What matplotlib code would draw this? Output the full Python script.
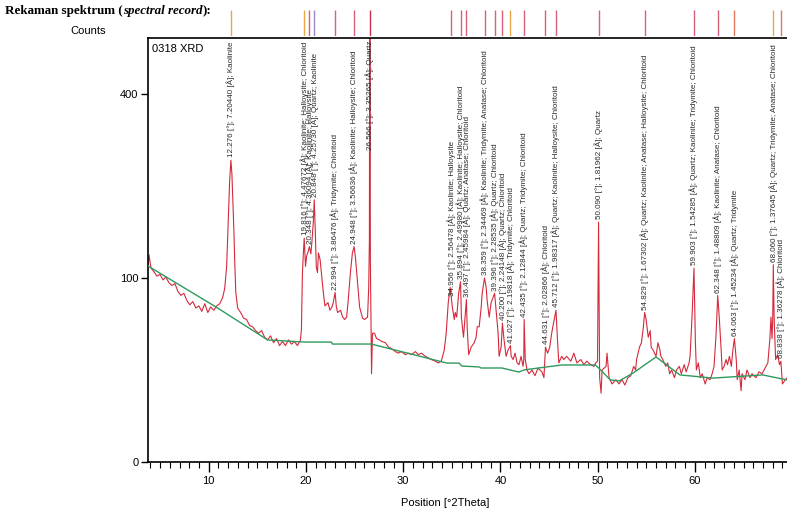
import numpy as np
import matplotlib
matplotlib.use('Agg')
import matplotlib.pyplot as plt
from matplotlib.ticker import FixedLocator, MultipleLocator

theta_a = [3.75, 3.85, 4.06, 4.36, 4.67, 4.98, 5.29, 5.59, 5.90, 6.21,
           6.52, 6.82, 7.13, 7.44, 7.75, 8.05, 8.36, 8.67, 8.98, 9.28,
           9.59, 9.90, 10.20, 10.51, 10.82, 11.13, 11.43, 11.64, 11.84, 11.95,
           12.05, 12.15, 12.276, 12.38, 12.48, 12.58, 12.68, 12.78, 12.97, 13.28,
           13.59, 13.89, 14.20, 14.51, 14.82, 15.12, 15.43, 15.74, 16.05, 16.35,
           16.66, 16.97, 17.28, 17.58, 17.89, 18.20, 18.50, 18.81, 19.12, 19.43]
counts_a = [111, 127, 111, 107, 102, 104, 98, 101, 95, 92,
            94, 86, 82, 84, 77, 73, 76, 70, 72, 67,
            74, 66, 71, 68, 72, 74, 80, 89, 113, 150,
            190, 235, 269, 245, 200, 160, 115, 85, 70, 66,
            61, 60, 55, 54, 51, 49, 51, 46, 44, 47,
            42, 45, 40, 43, 40, 44, 41, 43, 40, 44]

theta_b = [19.53, 19.63, 19.73, 19.816, 19.95, 20.06, 20.20, 20.348, 20.50, 20.62,
           20.75, 20.848, 20.95, 21.06, 21.18, 21.28, 21.45, 21.65, 21.78, 21.95,
           22.26, 22.46, 22.67, 22.80, 22.994, 23.12, 23.25, 23.56, 23.77, 23.97,
           24.18, 24.35, 24.56, 24.77, 24.948, 25.10, 25.30, 25.51, 25.82, 26.02,
           26.33, 26.45, 26.52, 26.566, 26.62, 26.74, 26.84, 27.05, 27.25, 27.56,
           27.76, 28.17, 28.48, 28.79, 29.20, 29.50, 29.81, 30.22, 30.53, 30.84,
           31.25, 31.55, 31.86, 32.27, 32.58, 32.89, 33.30, 33.60, 33.91, 34.22,
           34.42, 34.63, 34.83]
counts_b = [52, 105, 129, 148, 113, 125, 130, 137, 128, 145,
            170, 203, 160, 112, 106, 129, 121, 98, 85, 72,
            75, 68, 71, 75, 85, 71, 66, 68, 62, 60,
            62, 78, 105, 129, 137, 122, 95, 71, 61, 60,
            62, 90, 145, 1000, 120, 23, 49, 49, 45, 44,
            43, 42, 39, 38, 36, 35, 36, 34, 35, 34,
            36, 34, 35, 33, 32, 31, 30, 29, 30, 37,
            49, 75, 90]

theta_c = [34.956, 35.05, 35.25, 35.35, 35.50, 35.70, 35.894, 35.98, 36.20, 36.497,
           36.58, 36.73, 36.99, 37.30, 37.50, 37.61, 37.81, 38.02, 38.12, 38.359,
           38.53, 38.63, 38.84, 39.04, 39.396, 39.55, 39.76, 39.86, 40.07, 40.200,
           40.37, 40.58, 40.78, 41.027, 41.10, 41.30, 41.50, 41.71, 41.91, 42.12,
           42.32, 42.40, 42.435, 42.55, 42.73, 42.94, 43.24, 43.55, 43.86, 44.27,
           44.47, 44.631, 44.85, 45.07, 45.27, 45.48, 45.712, 45.85, 46.00, 46.30,
           46.50, 46.80, 47.24, 47.55, 47.86, 48.27, 48.58, 48.88, 49.29, 49.60,
           49.80, 49.98, 50.090, 50.20, 50.35, 50.45, 50.86, 50.96, 51.17, 51.47,
           51.88, 52.19]
counts_c = [95, 71, 60, 66, 62, 84, 96, 62, 46, 78,
            53, 34, 39, 42, 46, 54, 54, 71, 84, 100,
            90, 77, 62, 75, 84, 68, 49, 33, 39, 57,
            44, 33, 37, 40, 33, 31, 35, 29, 28, 33,
            27, 31, 60, 31, 25, 23, 25, 22, 26, 24,
            21, 39, 35, 39, 49, 58, 68, 46, 29, 33,
            31, 33, 30, 35, 29, 31, 28, 30, 28, 27,
            29, 30, 170, 21, 14, 25, 27, 35, 21, 18,
            20, 18]

theta_d = [52.50, 52.80, 53.10, 53.40, 53.70, 53.90, 54.00, 54.30, 54.50, 54.70,
           54.829, 54.98, 55.20, 55.40, 55.50, 55.70, 56.00, 56.20, 56.40, 56.50,
           56.70, 57.00, 57.20, 57.40, 57.60, 57.90, 58.10, 58.40, 58.60, 58.90,
           59.10, 59.40, 59.50, 59.70, 59.903, 60.05, 60.15, 60.35, 60.55, 60.75,
           61.05, 61.26, 61.56, 61.77, 61.97, 62.18, 62.348, 62.50, 62.70, 62.80,
           63.00, 63.20, 63.35, 63.55, 63.75, 63.90, 64.063, 64.25, 64.35, 64.55,
           64.75, 64.85, 65.15, 65.36, 65.67, 65.87, 66.28, 66.59, 66.90, 67.30,
           67.50, 67.70, 67.82, 67.93, 68.00, 68.060, 68.15, 68.30, 68.50, 68.70,
           68.838, 69.00, 69.30, 69.50]
counts_d = [20, 17.5, 21, 22, 27, 25, 31, 39, 42, 54,
            66, 60, 46, 51, 39, 37, 33, 42, 37, 33,
            31, 27, 29, 23, 25, 21, 25, 27, 23, 28,
            24, 29, 33, 62, 111, 42, 25, 29, 21, 23,
            18, 21, 20, 23, 27, 49, 82, 62, 37, 25,
            27, 31, 28, 33, 27, 37, 45, 31, 20, 25,
            15, 23, 20, 25, 21, 23, 21, 24, 23, 27,
            29, 44, 62, 45, 60, 115, 60, 31, 34, 28,
            30, 18, 20, 21]

# fitted background
bg_theta = [3.75, 10.92, 16.05, 19.84, 22.61, 22.71, 26.71, 34.50, 35.73, 36.04,
            37.80, 38.00, 40.15, 41.90, 42.40, 43.90, 46.30, 49.75, 50.10, 51.30,
            52.20, 53.65, 56.00, 58.45, 61.85, 66.97, 69.47]
bg_counts = [113.5, 70.0, 44.0, 42.5, 42.5, 41.1, 41.1, 28.9, 28.9, 27.2,
             26.7, 26.1, 26.1, 23.9, 25.0, 26.1, 27.8, 27.8, 26.1, 19.9,
             19.4, 23.4, 32.6, 22.4, 20.8, 22.4, 19.9]

# peak list
peak_pos = [12.276, 19.816, 20.348, 20.848, 22.994, 24.948, 26.566, 34.956,
            35.894, 36.497, 38.359, 39.396, 40.200, 41.027, 42.435, 44.631,
            45.712, 50.090, 54.829, 59.903, 62.348, 64.063, 68.060, 68.838]
peak_d = ['7.20440', '4.47672', '4.36094', '4.25730', '3.86476', '3.56636',
          '3.35265', '2.56478', '2.49980', '2.45984', '2.34469', '2.28535',
          '2.24148', '2.19818', '2.12844', '2.02866', '1.98317', '1.81962',
          '1.67302', '1.54285', '1.48809', '1.45234', '1.37645', '1.36278']
peak_phases = ['Kaolinite',
               'Kaolinite; Halloysite; Chloritoid',
               'Kaolinite; Halloysite',
               'Quartz; Kaolinite',
               'Tridymite; Chloritoid',
               'Kaolinite; Halloysite; Chloritoid',
               'Quartz',
               'Kaolinite; Halloysite',
               'Kaolinite; Halloysite; Chloritoid',
               'Quartz; Anatase; Chloritoid',
               'Kaolinite; Tridymite; Anatase; Chloritoid',
               'Quartz; Chloritoid',
               'Quartz; Chloritoid',
               'Tridymite; Chloritoid',
               'Quartz; Tridymite; Chloritoid',
               'Chloritoid',
               'Quartz; Kaolinite; Halloysite; Chloritoid',
               'Quartz',
               'Quartz; Kaolinite; Anatase; Halloysite; Chloritoid',
               'Quartz; Kaolinite; Tridymite; Chloritoid',
               'Kaolinite; Anatase; Chloritoid',
               'Quartz; Tridymite',
               'Quartz; Tridymite; Anatase; Chloritoid',
               'Chloritoid']

RED = '#d9607a'
ORANGE = '#e8a848'
PURPLE = '#9a86c4'
stick_colors = [ORANGE, ORANGE, RED, PURPLE, RED, RED, '#c8304a', RED,
                RED, RED, RED, RED, RED, ORANGE, RED, RED,
                RED, RED, RED, RED, RED, '#e0785a', ORANGE, '#e0785a']

two_theta = np.array(theta_a + theta_b + theta_c[1:] + theta_d)
counts = np.array(counts_a + counts_b + counts_c[1:] + counts_d, dtype=float)
order = np.argsort(two_theta, kind='stable')
two_theta, counts = two_theta[order], counts[order]

X0, X1 = 3.75, 69.47
YTOP = 531

fig = plt.figure(figsize=(7.87, 5.15), dpi=100)
ax = fig.add_axes([148 / 787, 1 - 462 / 515, 1 - 148 / 787, 424 / 515])
ax.set_yscale('function', functions=(lambda v: np.sqrt(np.clip(v, 0, None)),
                                     lambda v: np.square(v)))
ax.plot(two_theta, counts, color='#d42a3c', lw=0.8, zorder=2)
ax.plot(bg_theta, bg_counts, color='#2f9a5e', lw=1.0, zorder=3)
ax.set_xlim(X0, X1)
ax.set_ylim(0, YTOP)

lab_font = dict(family='Liberation Sans', size=5.8, color='#2a2a2a')
for p, d, ph in zip(peak_pos, peak_d, peak_phases):
    h = np.interp(p, two_theta, counts)
    txt = '%.3f [°]; %s [Å]; %s' % (p, d, ph)
    if h > YTOP:
        a = ax.annotate(txt, (p, YTOP), xytext=(0, -2), textcoords='offset points',
                        rotation=90, ha='center', va='top', **lab_font)
    else:
        a = ax.annotate(txt, (p, h), xytext=(0, 2), textcoords='offset points',
                        rotation=90, ha='center', va='bottom', **lab_font)
    a.set_clip_on(True)

ax.text(0.006, 0.985, '0318 XRD', transform=ax.transAxes, ha='left', va='top',
        family='Liberation Sans', size=8)

for s in ['left', 'top', 'bottom']:
    ax.spines[s].set_linewidth(1.2)
ax.spines['right'].set_visible(False)

ax.xaxis.set_major_locator(FixedLocator([10, 20, 30, 40, 50, 60]))
ax.xaxis.set_minor_locator(MultipleLocator(1))
ax.yaxis.set_major_locator(FixedLocator([0, 100, 400]))
ax.yaxis.set_minor_locator(FixedLocator([]))
ax.tick_params(axis='x', which='major', direction='out', length=7, width=1, pad=3,
               labelsize=8)
ax.tick_params(axis='x', which='minor', direction='out', length=4, width=0.8)
ax.tick_params(axis='y', which='major', direction='out', length=5, width=1, pad=2,
               labelsize=8)
for lab in ax.get_xticklabels() + ax.get_yticklabels():
    lab.set_family('Liberation Sans')

ax.set_xlabel('Position [°2Theta]', family='Liberation Sans', size=8)
ax.xaxis.set_label_coords((445 - 148) / 639, -0.085)

# reference sticks above the frame
sax = fig.add_axes([148 / 787, 1 - 36 / 515, 1 - 148 / 787, 26 / 515])
sax.set_xlim(X0, X1)
sax.set_ylim(0, 1)
sax.vlines(peak_pos, 0, 1, colors=stick_colors, lw=1.0)
sax.axis('off')

fig.text(88 / 787, 1 - 31 / 515, 'Counts', ha='center', va='center',
         family='Liberation Sans', size=8)

# header, bold with an italic part, each piece chained to the previous one
head = dict(family='Liberation Serif', weight='bold', size=9.4)
t1 = fig.text(5 / 787, 1 - 11 / 515, 'Rekaman spektrum (', ha='left', va='center', **head)
t2 = ax.annotate('spectral record', xy=(1, 0), xycoords=t1, xytext=(0.2, 0),
                 textcoords='offset points', ha='left', va='bottom',
                 style='italic', annotation_clip=False, **head)
ax.annotate('):', xy=(1, 0), xycoords=t2, xytext=(0.2, 0),
            textcoords='offset points', ha='left', va='bottom',
            annotation_clip=False, **head)

fig.savefig('out.png', dpi=100)
